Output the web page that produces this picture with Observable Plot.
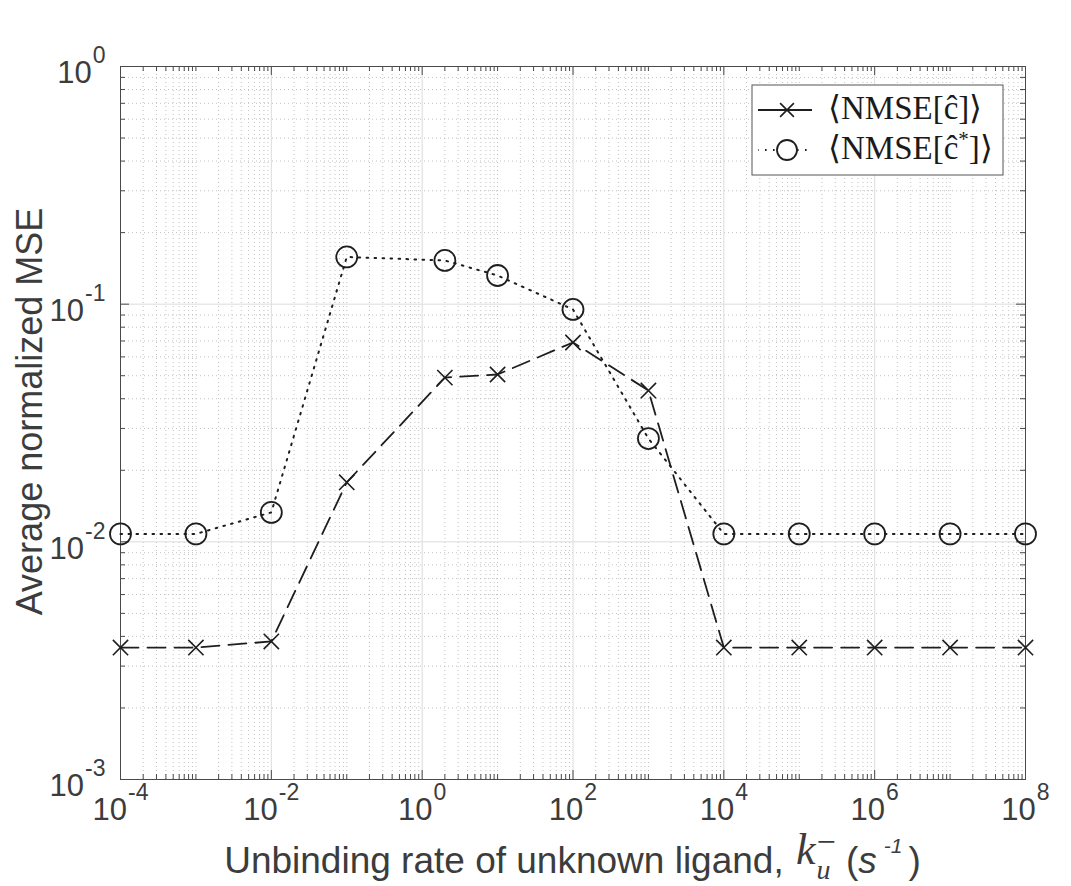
<!DOCTYPE html>
<html><head><meta charset="utf-8">
<script src="https://cdn.jsdelivr.net/npm/d3@7"></script>
<script src="https://cdn.jsdelivr.net/npm/@observablehq/plot@0.6"></script>
<style>body{margin:0;background:#fff} svg{display:block}</style>
</head><body><div id="chart"></div>
<script>
// ---- data ----
const kValues   = [1e-4, 1e-3, 1e-2, 1e-1, 2, 10, 100, 1000, 1e4, 1e5, 1e6, 1e7, 1e8];
const nmseC     = [0.00359, 0.00359, 0.00381, 0.0178, 0.0491, 0.0506, 0.069, 0.0433, 0.00359, 0.00359, 0.00359, 0.00359, 0.00359];
const nmseCStar = [0.0108, 0.0108, 0.0133, 0.158, 0.1527, 0.132, 0.095, 0.0272, 0.0108, 0.0108, 0.0108, 0.0108, 0.0108];
const seriesNames = ["NMSE[ĉ]", "NMSE[ĉ*]"];
const xTickExponents = [-4, -2, 0, 2, 4, 6, 8];
const yTickExponents = [-3, -2, -1, 0];
const xLabelText = "Unbinding rate of unknown ligand, ";
const yLabelText = "Average normalized MSE";

// ---- layout ----
const W = 1071, H = 886, mL = 120, mR = 46, mT = 66, mB = 107;
const innerW = W - mL - mR, innerH = H - mT - mB;
const txt = "#3c3c3c", axisC = "#4a4a4a", lineC = "#1e1e1e";
const sans = "'Liberation Sans', Arial, Helvetica, sans-serif";
const serif = "'Liberation Serif', 'Times New Roman', serif";

const rowsC = kValues.map((k, i) => ({k, v: nmseC[i]}));
const rowsS = kValues.map((k, i) => ({k, v: nmseCStar[i]}));

const xMajor = xTickExponents.map(e => 10 ** e);
const yMajor = yTickExponents.map(e => 10 ** e);
const xMinor = [];
for (let e = -4; e < 8; e++) for (let m = 1; m < 10; m++) {
  if (m === 1 && e % 2 === 0) continue;
  xMinor.push(m * 10 ** e);
}
const yMinor = [];
for (let e = -3; e < 0; e++) for (let m = 2; m < 10; m++) yMinor.push(m * 10 ** e);

const minorGrid = {stroke: "#c2c2c2", strokeWidth: 1, strokeDasharray: "1,3"};
const majorGrid = {stroke: "#dcdcdc", strokeWidth: 1};

const svg = Plot.plot({
  width: W, height: H,
  marginLeft: mL, marginRight: mR, marginTop: mT, marginBottom: mB,
  x: {type: "log", domain: [1e-4, 1e8], axis: null},
  y: {type: "log", domain: [1e-3, 1], axis: null},
  style: {background: "#fff"},
  marks: [
    Plot.ruleX(xMinor, {x: d => d, ...minorGrid}),
    Plot.ruleY(yMinor, {y: d => d, ...minorGrid}),
    Plot.ruleX(xMajor, {x: d => d, ...majorGrid}),
    Plot.ruleY(yMajor, {y: d => d, ...majorGrid}),
    // inward ticks on all four sides
    Plot.tickX(xMajor, {x: d => d, stroke: axisC, insetTop: innerH - 9}),
    Plot.tickX(xMajor, {x: d => d, stroke: axisC, insetBottom: innerH - 9}),
    Plot.tickX(xMinor, {x: d => d, stroke: axisC, insetTop: innerH - 5}),
    Plot.tickX(xMinor, {x: d => d, stroke: axisC, insetBottom: innerH - 5}),
    Plot.tickY(yMajor, {y: d => d, stroke: axisC, insetRight: innerW - 9}),
    Plot.tickY(yMajor, {y: d => d, stroke: axisC, insetLeft: innerW - 9}),
    Plot.tickY(yMinor, {y: d => d, stroke: axisC, insetRight: innerW - 5}),
    Plot.tickY(yMinor, {y: d => d, stroke: axisC, insetLeft: innerW - 5}),
    Plot.frame({stroke: axisC, strokeWidth: 1}),
    // tick labels (exponent converted to superscript after render)
    Plot.text(xTickExponents, {x: e => 10 ** e, frameAnchor: "bottom", text: e => `10^${e}`,
      dy: 40, fontSize: 31, fontFamily: sans, fill: txt, textAnchor: "middle"}),
    Plot.text(yTickExponents, {y: e => 10 ** e, frameAnchor: "left", text: e => `10^${e}`,
      dx: -15, dy: 7, fontSize: 31, fontFamily: sans, fill: txt, textAnchor: "end"}),
    // series
    Plot.line(rowsC, {x: "k", y: "v", stroke: lineC, strokeWidth: 1.8, strokeDasharray: "18,9"}),
    Plot.dot(rowsC, {x: "k", y: "v", symbol: "times", r: 7, stroke: lineC, strokeWidth: 1.6}),
    Plot.line(rowsS, {x: "k", y: "v", stroke: lineC, strokeWidth: 2, strokeDasharray: "1.6,6.4"}),
    Plot.dot(rowsS, {x: "k", y: "v", symbol: "circle", r: 10.5, stroke: lineC, strokeWidth: 1.8, fill: "none"})
  ]
});

const S = d3.select(svg);
// superscript exponents in tick labels
S.selectAll("text").each(function () {
  if (!/^10\^-?\d+$/.test(this.textContent)) return;
  const [base, exp] = this.textContent.split("^");
  this.textContent = base;
  d3.select(this).append("tspan").attr("dx", 1).attr("dy", -20).attr("font-size", 23).text(exp);
});

// x-axis label with math
const xl = S.append("text").attr("x", mL + innerW / 2).attr("y", 873)
  .attr("text-anchor", "middle").attr("font-family", sans).attr("font-size", 37).attr("fill", txt);
xl.append("tspan").text(xLabelText);
xl.append("tspan").attr("font-family", serif).attr("font-style", "italic").attr("font-size", 44)
  .attr("dx", 2).attr("dy", -9).text("k");
xl.append("tspan").attr("font-family", serif).attr("font-style", "italic").attr("font-size", 28)
  .attr("dx", 1).attr("dy", 15).text("u");
xl.append("tspan").attr("font-family", serif).attr("font-size", 34)
  .attr("dx", -14).attr("dy", -26).text("−");
xl.append("tspan").attr("dy", 20).text(" (");
xl.append("tspan").attr("font-style", "italic").text("s");
xl.append("tspan").attr("font-style", "italic").attr("font-size", 21).attr("dx", 7).attr("dy", -20).text("-1");
xl.append("tspan").attr("dx", 6).attr("dy", 20).text(")");

// y-axis label
S.append("text").attr("transform", `translate(42,${mT + innerH / 2 - 11}) rotate(-90)`)
  .attr("text-anchor", "middle").attr("font-family", sans).attr("font-size", 36).attr("fill", txt)
  .text(yLabelText);

// legend (top-right, inside the frame)
const lgX = mL + innerW - 22 - 251, lgY = mT + 19;
const lg = S.append("g").attr("transform", `translate(${lgX},${lgY})`);
lg.append("rect").attr("width", 251).attr("height", 90).attr("fill", "#fff").attr("stroke", "#555").attr("stroke-width", 1);
const rowsY = [25, 65];
// entry 1: dashed + times
lg.append("line").attr("x1", 6).attr("x2", 60).attr("y1", rowsY[0]).attr("y2", rowsY[0])
  .attr("stroke", lineC).attr("stroke-width", 1.8);
lg.append("path").attr("d", d3.symbol(d3.symbolTimes, Math.PI * 40)()).attr("transform", `translate(35,${rowsY[0]})`)
  .attr("fill", "none").attr("stroke", lineC).attr("stroke-width", 1.6);
// entry 2: dotted + circle
lg.append("line").attr("x1", 6).attr("x2", 60).attr("y1", rowsY[1]).attr("y2", rowsY[1])
  .attr("stroke", lineC).attr("stroke-width", 2).attr("stroke-dasharray", "1.6,6.4").attr("stroke-dashoffset", 1);
lg.append("circle").attr("cx", 35).attr("cy", rowsY[1]).attr("r", 10).attr("fill", "#fff")
  .attr("stroke", lineC).attr("stroke-width", 1.8);
seriesNames.forEach((name, i) => {
  const t = lg.append("text").attr("x", 76).attr("y", rowsY[i] + 9).attr("text-anchor", "start")
    .attr("font-family", serif).attr("font-size", 33).attr("fill", "#1a1a1a");
  t.append("tspan").text("⟨");
  if (name.includes("*")) {
    t.append("tspan").text(name.replace("*]", ""));
    t.append("tspan").attr("font-size", 21).attr("dy", -13).text("*");
    t.append("tspan").attr("dy", 13).text("]⟩");
  } else {
    t.append("tspan").text(name + "⟩");
  }
});

document.getElementById("chart").appendChild(svg);
</script>
</body></html>
